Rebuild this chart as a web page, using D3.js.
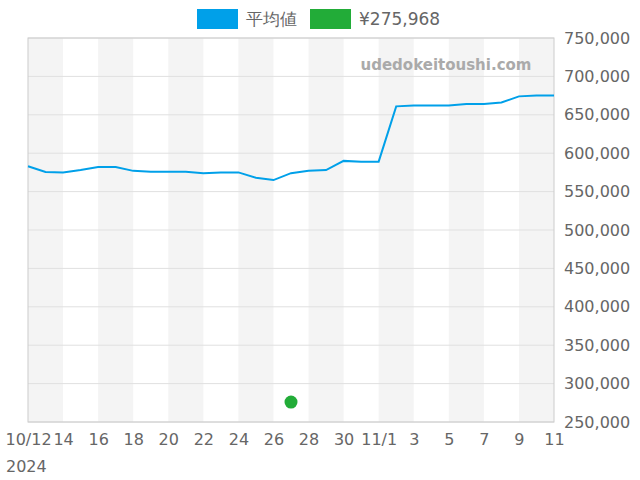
<!DOCTYPE html>
<html><head><meta charset="utf-8">
<script src="https://cdn.jsdelivr.net/npm/d3@7"></script>
<style>body{margin:0;background:#fff}text{font-family:"DejaVu Sans",sans-serif}</style>
</head><body><svg id="c" width="640" height="480"></svg>
<script>
const startDate = "2024-10-12";
const avgValues = [583000,575500,575000,578000,582000,582000,577000,576000,576000,576000,574000,575000,575000,568000,565000,574000,577000,578000,590000,589000,589000,661000,662000,662000,662000,664000,664000,666000,674000,675000,675000];
const pointDates = ["2024-10-27"];
const pointValues = [275968];
const yTicks = [250000,300000,350000,400000,450000,500000,550000,600000,650000,700000,750000];
const xTickDates = ["2024-10-12","2024-10-14","2024-10-16","2024-10-18","2024-10-20","2024-10-22","2024-10-24","2024-10-26","2024-10-28","2024-10-30","2024-11-01","2024-11-03","2024-11-05","2024-11-07","2024-11-09","2024-11-11"];
const xTickLabels = ["10/12","14","16","18","20","22","24","26","28","30","11/1","3","5","7","9","11"];
const legendLabels = ["平均値","¥275,968"];
const colors = ["#00a0e9","#22ac38"];

const P = d => new Date(d+"T00:00:00");
const s0 = P(startDate);
const dates = avgValues.map((v,i)=>d3.timeDay.offset(s0,i));
const svg = d3.select("#c");
const L=28,R=554,T=38,B=422;
const x = d3.scaleTime().domain([dates[0],dates[dates.length-1]]).range([L,R]);
const y = d3.scaleLinear().domain([250000,750000]).range([B,T]);

for(let i=0;i<xTickDates.length-1;i+=2){
  svg.append("rect").attr("x",x(P(xTickDates[i]))).attr("y",T)
    .attr("width",x(P(xTickDates[i+1]))-x(P(xTickDates[i]))).attr("height",B-T).attr("fill","#f4f4f4");
}
yTicks.forEach(t=>svg.append("line").attr("x1",L).attr("x2",R).attr("y1",y(t)).attr("y2",y(t)).attr("stroke","#e0e0e0"));
svg.append("rect").attr("x",L).attr("y",T).attr("width",R-L).attr("height",B-T).attr("fill","none").attr("stroke","#ccc");

const ya = svg.append("g").attr("transform",`translate(${R},0)`)
  .call(d3.axisRight(y).tickValues(yTicks).tickSize(0).tickPadding(10).tickFormat(d3.format(",")));
ya.select(".domain").remove();
ya.selectAll("text").attr("font-size",16).attr("fill","#666");

const xa = svg.append("g").attr("transform",`translate(0,${B})`)
  .call(d3.axisBottom(x).tickValues(xTickDates.map(P)).tickSize(0).tickPadding(12).tickFormat((d,i)=>xTickLabels[i]));
xa.select(".domain").remove();
xa.selectAll("text").attr("font-size",16).attr("fill","#666");
svg.append("text").attr("x",6).attr("y",472).attr("font-size",16).attr("fill","#666").text("2024");

svg.append("text").attr("x",446).attr("y",70).attr("text-anchor","middle").attr("font-size",15).attr("font-weight","bold").attr("fill","#aaa").text("udedokeitoushi.com");

svg.append("path").datum(avgValues).attr("fill","none").attr("stroke",colors[0]).attr("stroke-width",2)
  .attr("d",d3.line().x((d,i)=>x(dates[i])).y(d=>y(d)));
pointValues.forEach((v,i)=>svg.append("circle").attr("cx",x(P(pointDates[i]))).attr("cy",y(v)).attr("r",6.5).attr("fill",colors[1]));

const lx=[197,310];
legendLabels.forEach((l,i)=>{
  svg.append("rect").attr("x",lx[i]).attr("y",9).attr("width",41).attr("height",20).attr("fill",colors[i]);
  svg.append("text").attr("x",lx[i]+49).attr("y",25).attr("font-size",17).attr("fill","#666").text(l);
});
</script></body></html>
